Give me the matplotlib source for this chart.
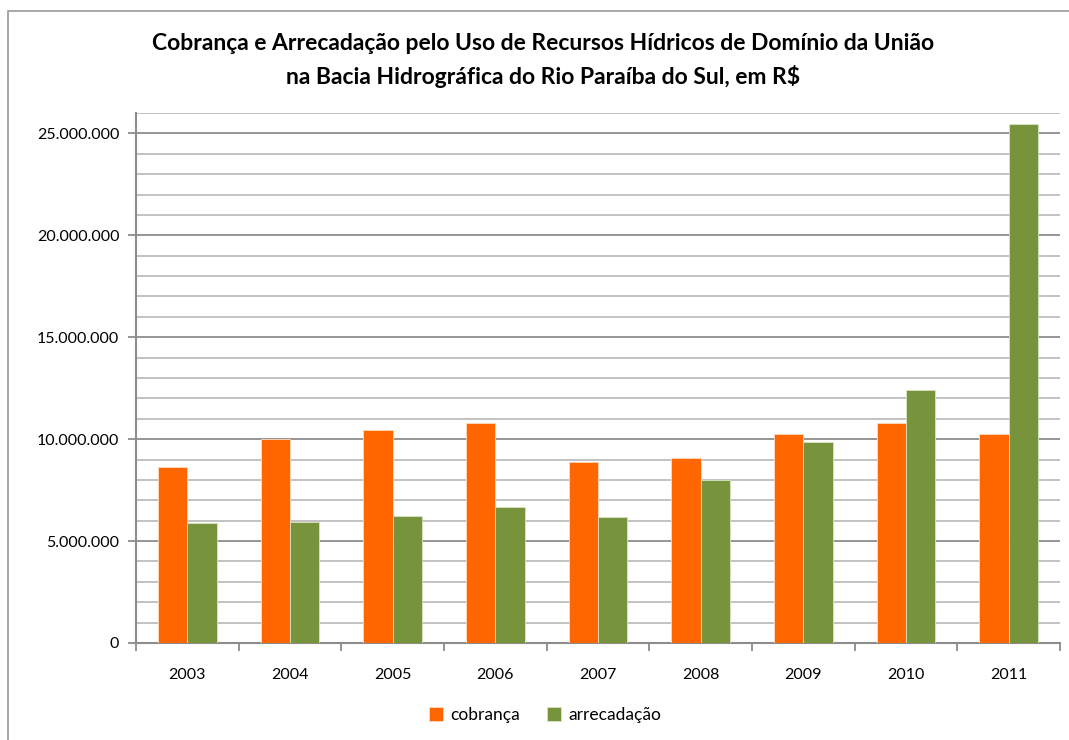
import matplotlib.pyplot as plt
import matplotlib.ticker as mticker
import numpy as np
from matplotlib.patches import Rectangle

# dados
anos = ['2003', '2004', '2005', '2006', '2007', '2008', '2009', '2010', '2011']
cobranca = [8610000, 10000000, 10460000, 10780000, 8860000, 9080000, 10250000, 10780000, 10250000]
arrecadacao = [5870000, 5950000, 6240000, 6680000, 6160000, 8020000, 9850000, 12390000, 25440000]

plt.rcParams['font.family'] = ['Lato', 'DejaVu Sans']

fig = plt.figure(figsize=(10.69, 7.40), dpi=100)
ax = fig.add_axes([136 / 1069, 1 - 643 / 740, 924 / 1069, 530 / 740])

# moldura do grafico
fig.patches.append(Rectangle((8 / 1069, -0.1), 1.2, 1 - 11 / 740 + 0.1,
                             transform=fig.transFigure, fill=False,
                             edgecolor='#9a9a9a', linewidth=1.2))

x = np.arange(len(anos))
w = 0.285
ax.bar(x - w / 2, cobranca, w, color='#FF6600', edgecolor='#ffd9bf', linewidth=0.6,
       label='cobrança', zorder=3)
ax.bar(x + w / 2, arrecadacao, w, color='#77933C', edgecolor='#d9e4c4', linewidth=0.6,
       label='arrecadação', zorder=3)

ax.set_xlim(-0.5, len(anos) - 0.5)
ax.set_ylim(0, 26000000)

# linhas de grade a cada 1 milhao, mais escuras a cada 5 milhoes
for v in range(1000000, 26000001, 1000000):
    cor = '#8c8c8c' if v % 5000000 == 0 else '#bdbdbd'
    ax.axhline(v, color=cor, linewidth=1.3, zorder=1)

ax.set_yticks(range(0, 26000001, 5000000))
ax.yaxis.set_major_formatter(mticker.FuncFormatter(lambda v, p: f'{int(v):,}'.replace(',', '.')))
ax.set_xticks(x)
ax.set_xticklabels(anos)
ax.set_xticks(np.arange(-0.5, len(anos), 1), minor=True)
ax.tick_params(axis='x', which='major', length=0, pad=18, labelsize=11.5)
ax.tick_params(axis='x', which='minor', length=6, color='#8c8c8c', width=1.3, direction='out')
ax.tick_params(axis='y', length=6, color='#8c8c8c', width=1.3, labelsize=11.5, pad=6)

for s in ['top', 'right']:
    ax.spines[s].set_visible(False)
for s in ['left', 'bottom']:
    ax.spines[s].set_color('#8c8c8c')
    ax.spines[s].set_linewidth(1.5)

fig.text(0.508, 1 - 44 / 740, 'Cobrança e Arrecadação pelo Uso de Recursos Hídricos de Domínio da União',
         ha='center', va='center', fontsize=16.5, fontweight='bold')
fig.text(0.508, 1 - 76 / 740, 'na Bacia Hidrográfica do Rio Paraíba do Sul, em R$',
         ha='center', va='center', fontsize=16.5, fontweight='bold')

fig.legend(loc='center', bbox_to_anchor=(545 / 1069, 1 - 715 / 740), ncol=2, frameon=False,
           fontsize=12.5, handlelength=0.8, handleheight=0.8, handletextpad=0.4,
           columnspacing=1.6)

fig.savefig('out.png', dpi=100)
